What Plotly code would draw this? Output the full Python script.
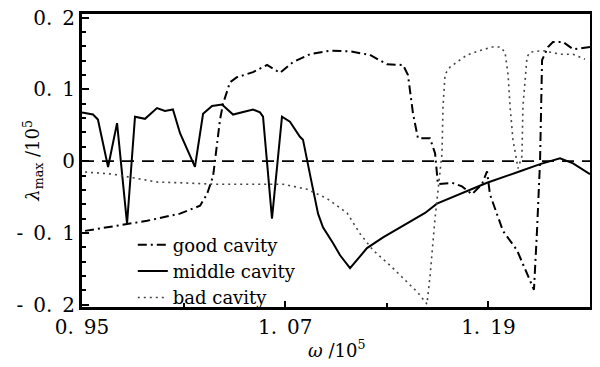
import plotly.graph_objects as go

# ---- data ----
solid_x = [0.9500, 0.9565, 0.9594, 0.9654, 0.9707, 0.9766, 0.9813, 0.9872, 0.9943, 0.9990,
           1.0037, 1.0079, 1.0167, 1.0215, 1.0268, 1.0327, 1.0392, 1.0510, 1.0551, 1.0569,
           1.0622, 1.0681, 1.0728, 1.0787, 1.0805, 1.0829, 1.0852, 1.0894, 1.0923, 1.0982,
           1.1024, 1.1083, 1.1183, 1.1278, 1.1526, 1.1596, 1.1774, 1.1892, 1.2087, 1.2205,
           1.2323, 1.2400, 1.2500]
solid_y = [0.068, 0.065, 0.058, -0.008, 0.053, -0.087, 0.062, 0.059, 0.074, 0.070,
           0.072, 0.039, -0.008, 0.066, 0.077, 0.079, 0.065, 0.072, 0.068, 0.062,
           -0.080, 0.062, 0.055, 0.034, 0.030, 0.000, -0.025, -0.073, -0.092, -0.114,
           -0.131, -0.149, -0.121, -0.106, -0.072, -0.059, -0.041, -0.030, -0.014, -0.004,
           0.004, -0.003, -0.018]

dashdot_x = [0.9518, 0.9766, 0.9884, 1.0079, 1.0197, 1.0238, 1.0274, 1.0285, 1.0315, 1.0333,
             1.0374, 1.0415, 1.0510, 1.0593, 1.0669, 1.0746, 1.0846, 1.0965, 1.1083, 1.1201,
             1.1301, 1.1396, 1.1425, 1.1455, 1.1484, 1.1555, 1.1585, 1.1602, 1.1685, 1.1744,
             1.1803, 1.1862, 1.1892, 1.1909, 1.1951, 1.1986, 1.2069, 1.2128, 1.2169, 1.2187,
             1.2205, 1.2217, 1.2252, 1.2281, 1.2341, 1.2400, 1.2500]
dashdot_y = [-0.097, -0.088, -0.083, -0.073, -0.062, -0.046, -0.021, 0.000, 0.058, 0.080,
             0.110, 0.117, 0.124, 0.134, 0.123, 0.138, 0.149, 0.154, 0.153, 0.148,
             0.135, 0.134, 0.120, 0.066, 0.032, 0.032, 0.011, -0.032, -0.030, -0.035,
             -0.046, -0.032, -0.014, -0.046, -0.073, -0.097, -0.124, -0.156, -0.179, -0.097,
             0.000, 0.141, 0.159, 0.166, 0.166, 0.156, 0.159]

dotted_x = [0.9518, 0.9683, 0.9801, 0.9943, 1.0079, 1.0274, 1.0687, 1.0829, 1.0947, 1.1065,
            1.1142, 1.1219, 1.1319, 1.1408, 1.1484, 1.1537, 1.1555, 1.1585, 1.1626, 1.1632,
            1.1644, 1.1673, 1.1715, 1.1774, 1.1850, 1.1921, 1.1969, 1.1998, 1.2016, 1.2028,
            1.2045, 1.2075, 1.2098, 1.2104, 1.2128, 1.2146, 1.2223, 1.2323, 1.2400, 1.2470]
dotted_y = [-0.015, -0.018, -0.023, -0.029, -0.030, -0.032, -0.032, -0.039, -0.052, -0.072,
            -0.101, -0.124, -0.145, -0.166, -0.183, -0.199, -0.161, -0.079, 0.011, 0.076,
            0.121, 0.131, 0.138, 0.148, 0.154, 0.159, 0.159, 0.152, 0.121, 0.076,
            0.030, -0.010, 0.007, 0.076, 0.145, 0.152, 0.154, 0.149, 0.149, 0.142]

series_names = ["good cavity", "middle cavity", "bad cavity"]

x_tickvals = [0.95, 1.07, 1.19]
x_ticktext = ["0.\u200295", "1.\u200207", "1.\u200219"]
y_tickvals = [-0.2, -0.1, 0.0, 0.1, 0.2]
y_ticktext = ["-\u20020.\u20022", "-\u20020.\u20021", "0", "0.\u20021", "0.\u20022"]

FONT = "DejaVu Serif"

fig = go.Figure()
fig.add_trace(go.Scatter(x=dashdot_x, y=dashdot_y, mode="lines", name=series_names[0],
                         line=dict(color="black", width=2, dash="9px,4px,2px,4px")))
fig.add_trace(go.Scatter(x=solid_x, y=solid_y, mode="lines", name=series_names[1],
                         line=dict(color="black", width=2)))
fig.add_trace(go.Scatter(x=dotted_x, y=dotted_y, mode="lines", name=series_names[2],
                         line=dict(color="#444444", width=1.6, dash="2px,4px")))

fig.add_hline(y=0, line=dict(color="black", width=1.8, dash="12px,8px"))

# the page body adds an 8px offset, so the figure is 8px smaller on each axis
fig.update_layout(
    width=592, height=359,
    margin=dict(l=74, r=10, t=6, b=60, autoexpand=False),
    paper_bgcolor="white", plot_bgcolor="white",
    font=dict(family=FONT, color="black", size=20),
    showlegend=True,
    legend=dict(x=0.1, y=0.275, xanchor="left", yanchor="top",
                bgcolor="rgba(0,0,0,0)", borderwidth=0,
                font=dict(family=FONT, size=18, color="black"),
                itemwidth=30, tracegroupgap=0),
    annotations=[
        dict(text="<i>ω</i> /10<sup>5</sup>", xref="paper", yref="paper",
             x=0.5, y=-0.145, xanchor="center", yanchor="middle", showarrow=False,
             font=dict(family=FONT, size=18)),
        dict(text="<i>λ</i><sub>max</sub> /10<sup>5</sup>", xref="paper", yref="paper",
             x=-0.098, y=0.5, xanchor="center", yanchor="middle", showarrow=False,
             textangle=-90, font=dict(family=FONT, size=18)),
    ],
)

fig.update_xaxes(range=[0.95, 1.25], tickmode="array", tickvals=x_tickvals, ticktext=x_ticktext,
                 ticks="inside", ticklen=6, tickwidth=1.5, tickcolor="black", automargin=False,
                 ticklabeloverflow="allow",
                 minor=dict(tick0=0.95, dtick=0.06, ticks="inside", ticklen=4, tickcolor="black"),
                 showline=True, linecolor="black", linewidth=3, mirror=True,
                 showgrid=False, zeroline=False,
                 tickfont=dict(family=FONT, size=20, color="black"))
fig.update_yaxes(range=[-0.203, 0.205], tickmode="array", tickvals=y_tickvals, ticktext=y_ticktext,
                 ticks="inside", ticklen=7, tickwidth=1.5, tickcolor="black", automargin=False,
                 ticklabeloverflow="allow",
                 minor=dict(tick0=0, dtick=0.02, ticks="inside", ticklen=4, tickcolor="black"),
                 showline=True, linecolor="black", linewidth=3, mirror=True,
                 showgrid=False, zeroline=False,
                 tickfont=dict(family=FONT, size=20, color="black"))

fig.write_html("out.html")
